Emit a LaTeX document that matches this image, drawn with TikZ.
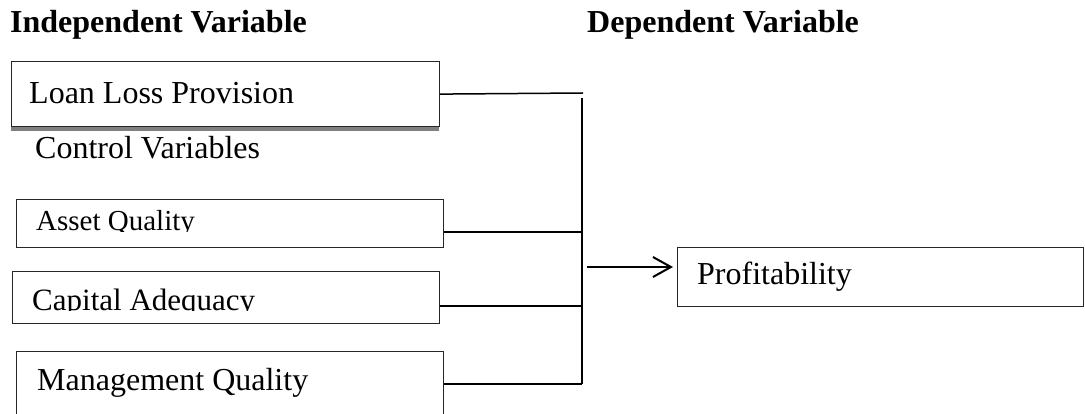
\documentclass[tikz,border=0pt]{standalone}
\usepackage{fontspec}
\setmainfont{Liberation Serif}
\usetikzlibrary{arrows.meta}
\begin{document}
\begin{tikzpicture}[x=1pt,y=-1pt,
  box/.style={draw=black!85, line width=1.2pt, rectangle, inner sep=0pt, anchor=north west},
  lbl/.style={inner sep=0pt, anchor=base west, font=\fontsize{32}{38}\selectfont},
  hdr/.style={inner sep=0pt, anchor=base west, font=\fontsize{32}{38}\selectfont\bfseries},
  conn/.style={line width=1.5pt},
  bus/.style={line width=2.6pt},
  shadowfill/.style={fill=black!50}
]
\clip (0,0) rectangle (1085,414);
\fill[white] (0,0) rectangle (1085,414);

% headers
\node[hdr] (indep) at (10,33) {Independent Variable};
\node[hdr] (dep) at (587,33) {Dependent Variable};

% boxes
\fill[shadowfill] (11,126) rectangle (439,131);
\node[box, minimum width=428pt, minimum height=65pt] (loan) at (11,61) {};
\node[box, minimum width=427pt, minimum height=48pt] (asset) at (16,199) {};
\node[box, minimum width=427pt, minimum height=52pt] (capital) at (12,271) {};
\node[box, minimum width=427pt, minimum height=80pt] (mgmt) at (16,351) {};
\node[box, minimum width=406pt, minimum height=59pt] (prof) at (677,247) {};

% texts
\node[lbl] (loant) at (29,104) {Loan Loss Provision};
\node[lbl] (ctrl) at (35,159) {Control Variables};
\begin{scope}
  \clip (16,199) rectangle (443,231.3);
  \node[lbl, font=\fontsize{29}{34}\selectfont] (assett) at (36,231) {Asset Quality};
\end{scope}
\begin{scope}
  \clip (12,271) rectangle (439,310.3);
  \node[lbl, font=\fontsize{31}{36}\selectfont] (capt) at (32,310) {Capital Adequacy};
\end{scope}
\node[lbl] (mgmtt) at (37,390) {Management Quality};
\node[lbl] (proft) at (697,285) {Profitability};

% connector points
\coordinate (j0) at (583,93);
\coordinate (vtop) at (582,98);
\coordinate (vbot) at (582,384);
\coordinate (j1) at (582,232);
\coordinate (j2) at (582,306);
\coordinate (a0) at (587,267);

\draw[conn] (loan.east) -- (j0);
\draw[conn] (asset.east |- j1) -- (j1);
\draw[conn] (capital.east |- j2) -- (j2);
\draw[conn] (mgmt.east |- vbot) -- (vbot);
\draw[bus] (vtop) -- (vbot);
\draw[line width=2pt, -{Straight Barb[length=18pt,width=20pt]}, shorten >=4pt] (a0) -- (prof.west |- a0);
\end{tikzpicture}
\end{document}
